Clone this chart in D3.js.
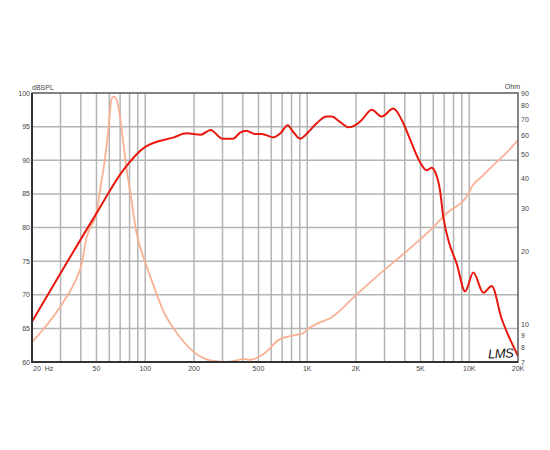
<!DOCTYPE html>
<html><head><meta charset="utf-8">
<script src="https://cdn.jsdelivr.net/npm/d3@7"></script>
<style>body{margin:0;background:#fff}svg text{font-family:"Liberation Sans",Arial,sans-serif}</style>
</head><body><svg id="c" width="550" height="450"></svg>
<script>
const splFreq = [20,50,73,100,150,180,220,253,300,348,385,420,476,524,618,683,757,820,903,1016,1143,1318,1416,1593,1795,1973,2170,2500,2883,3400,3917,4413,4969,5458,5862,6147,6604,6925,7435,8375,9430,10600,12220,13760,15870,17850,20000];
const splDb   = [66,82.1,88.5,92,93.4,94,93.8,94.5,93.2,93.2,94.1,94.4,93.9,93.9,93.4,94,95.2,94.2,93.2,94.2,95.5,96.5,96.5,95.7,94.9,95.2,96,97.5,96.5,97.7,95.5,92.5,89.7,88.5,88.9,88.3,85.5,81.5,78.1,74.6,70.5,73.3,70.3,71.3,66.4,63.4,60.9];
const impFreq = [20,23.5,29.8,37.8,40,43.5,50.4,53.8,55.1,59.2,62.1,64.1,66.7,69.9,73.3,76.9,80.5,88.5,97.3,107,129,164,208,263,318,404,444,536,679,820,946,993,1199,1384,2000,2812,3917,6000,7200,9870,10380,12000,14000,17000,20000];
const impOhm  = [8.45,9.55,11.8,15.6,17.2,22.9,29.6,39.3,43.2,63.3,85.6,87,84,71.8,55.7,43.2,35.8,23.7,19,15.9,11.4,8.86,7.54,7.07,7.0,7.2,7.15,7.54,8.7,9.0,9.2,9.5,10.2,10.6,13.2,16.2,19.5,25.2,28.6,34.6,37,40.8,45.2,51.1,57.5];
const dbTicks = [60,65,70,75,80,85,90,95,100];
const ohmTicks = [7,8,9,10,20,30,40,50,60,70,80,90];
const freqTicks = [20,50,100,200,500,1000,2000,5000,10000,20000];
const freqLabels = ["20  Hz","50","100","200","500","1K","2K","5K","10K","20K"];

const L=32,R=518,T=93,B=362;
const x=d3.scaleLog().domain([20,20000]).range([L,R]);
const yL=d3.scaleLinear().domain([60,100]).range([B,T]);
const yR=d3.scaleLog().domain([7,90]).range([B,T]);
const svg=d3.select("#c");

const grid=[];
for(let dec=10;dec<=10000;dec*=10){for(let m=1;m<10;m++){const f=m*dec;if(f>20&&f<20000)grid.push(f);}}
svg.append("g").selectAll("line").data(grid).join("line")
 .attr("x1",d=>x(d)).attr("x2",d=>x(d)).attr("y1",T).attr("y2",B)
 .attr("stroke","#b4b4b4").attr("stroke-width",1.5);
svg.append("g").selectAll("line").data(dbTicks.slice(1,-1)).join("line")
 .attr("x1",L).attr("x2",R).attr("y1",d=>yL(d)).attr("y2",d=>yL(d))
 .attr("stroke","#b4b4b4").attr("stroke-width",1.5);

svg.append("clipPath").attr("id","cp").append("rect").attr("x",L).attr("y",T).attr("width",R-L).attr("height",B-T);
const g=svg.append("g").attr("clip-path","url(#cp)");
const lineImp=d3.line().x(d=>x(d[0])).y(d=>yR(d[1])).curve(d3.curveMonotoneX);
const lineSpl=d3.line().x(d=>x(d[0])).y(d=>yL(d[1])).curve(d3.curveMonotoneX);
g.append("path").attr("d",lineImp(d3.zip(impFreq,impOhm))).attr("fill","none").attr("stroke","#f8b193").attr("stroke-width",1.8);
g.append("path").attr("d",lineSpl(d3.zip(splFreq,splDb))).attr("fill","none").attr("stroke","#e8180f").attr("stroke-width",2);

svg.append("rect").attr("x",L).attr("y",T).attr("width",R-L).attr("height",B-T).attr("fill","none").attr("stroke","#5a5a5a").attr("stroke-width",1.5);
svg.append("line").attr("x1",L).attr("x2",L).attr("y1",T).attr("y2",B+1).attr("stroke","#333").attr("stroke-width",2);
svg.append("line").attr("x1",L-1).attr("x2",R).attr("y1",B).attr("y2",B).attr("stroke","#333").attr("stroke-width",2);

const fs=7, col="#444";
svg.append("g").selectAll("text").data(dbTicks).join("text")
 .attr("x",L-2).attr("y",d=>yL(d)+2.5).attr("text-anchor","end").attr("font-size",fs).attr("fill",col).text(d=>d);
svg.append("g").selectAll("text").data(ohmTicks).join("text")
 .attr("x",R+3).attr("y",d=>yR(d)+2.5).attr("font-size",fs).attr("fill",col).text(d=>d);
svg.append("g").selectAll("text").data(freqTicks).join("text")
 .attr("x",(d,i)=>i==0?x(d)+1:x(d)).attr("y",B+9).attr("text-anchor",(d,i)=>i==0?"start":"middle")
 .attr("font-size",fs).attr("fill",col).style("white-space","pre").text((d,i)=>freqLabels[i]);
svg.append("text").attr("x",L).attr("y",T-3).attr("font-size",fs).attr("fill",col).text("dBSPL");
svg.append("text").attr("x",R+2).attr("y",T-4).attr("text-anchor","end").attr("font-size",fs).attr("fill",col).text("Ohm");
svg.append("text").attr("x",488).attr("y",358).attr("font-size",13).attr("font-style","italic")
 .attr("font-family","DejaVu Sans").attr("fill","#111").attr("transform","rotate(-3 500 352)").attr("letter-spacing",-0.5).text("LMS");
</script></body></html>
